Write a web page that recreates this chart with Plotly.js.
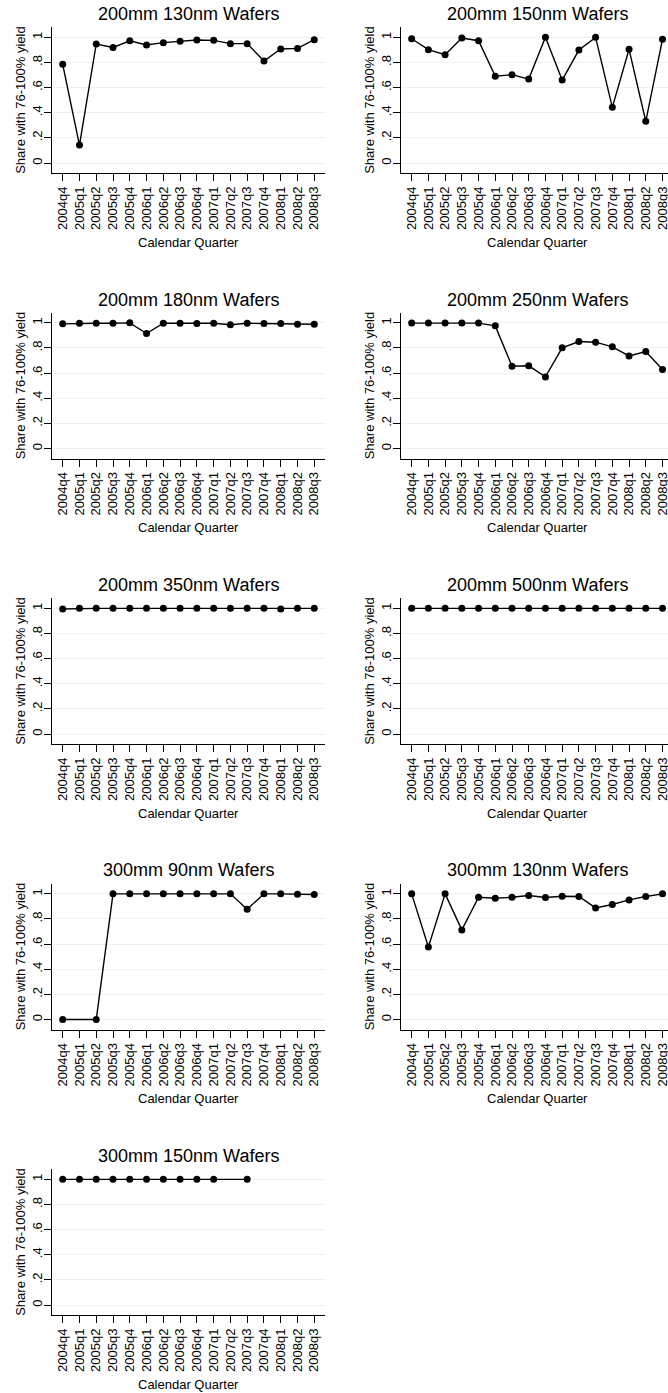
<!DOCTYPE html>
<html><head><meta charset="utf-8">
<script src="https://cdn.plot.ly/plotly-3.0.1.min.js"></script>
<style>html,body{margin:0;padding:0;overflow:hidden;background:#fff}</style>
</head><body><div id="chart"></div>
<script>
const quarters = ['2004q4','2005q1','2005q2','2005q3','2005q4','2006q1','2006q2','2006q3','2006q4','2007q1','2007q2','2007q3','2007q4','2008q1','2008q2','2008q3'];
const yTickVals = [0, 0.2, 0.4, 0.6, 0.8, 1];
const yTickText = ['0', '.2', '.4', '.6', '.8', '1'];
const panelTitles = ['200mm 130nm Wafers','200mm 150nm Wafers','200mm 180nm Wafers','200mm 250nm Wafers','200mm 350nm Wafers','200mm 500nm Wafers','300mm 90nm Wafers','300mm 130nm Wafers','300mm 150nm Wafers'];
const yAxisTitle = 'Share with 76-100% yield';
const xAxisTitle = 'Calendar Quarter';

const s200_130 = [0.785,0.143,0.947,0.920,0.973,0.939,0.958,0.968,0.979,0.976,0.950,0.950,0.812,0.907,0.912,0.981];
const s200_150 = [0.989,0.902,0.862,0.995,0.973,0.690,0.703,0.668,1.0,0.660,0.899,1.0,0.443,0.905,0.332,0.984];
const s200_180 = [0.992,0.997,0.997,0.997,1.0,0.915,0.997,0.997,0.995,0.997,0.985,0.997,0.995,0.995,0.989,0.989];
const s200_250 = [0.998,0.998,0.998,0.998,0.998,0.976,0.655,0.658,0.570,0.801,0.851,0.846,0.809,0.737,0.772,0.629];
const s200_350 = [0.995,1.0,1.0,1.0,1.0,1.0,1.0,1.0,1.0,1.0,1.0,1.0,1.0,0.995,1.0,1.0];
const s200_500 = [1.0,1.0,1.0,1.0,1.0,1.0,1.0,1.0,1.0,1.0,1.0,1.0,1.0,1.0,1.0,1.0];
const s300_90  = [0,null,0,1.0,1.0,1.0,1.0,1.0,1.0,1.0,1.0,0.878,1.0,1.0,0.997,0.995];
const s300_130 = [1.0,0.577,1.0,0.713,0.973,0.965,0.973,0.987,0.971,0.981,0.979,0.888,0.915,0.952,0.979,1.0];
const s300_150 = [1.0,1.0,1.0,1.0,1.0,1.0,1.0,1.0,1.0,1.0,null,1.0,null,null,null,null];

const series = [s200_130, s200_150, s200_180, s200_250, s200_350, s200_500, s300_90, s300_130, s300_150];

const W = 680, H = 1393;
const FONT = 'Liberation Sans, Arial, Helvetica, sans-serif';
const rowStep = 285.5;
const colLeft = [52.3, 401.3];
const colRight = [325.0, 673.2];

const traces = [];
const layout = {
  width: W, height: H,
  margin: {l: 0, r: 0, t: 0, b: 0},
  paper_bgcolor: '#ffffff', plot_bgcolor: '#ffffff',
  showlegend: false,
  font: {family: FONT, color: '#000000', size: 13},
  annotations: []
};

series.forEach((vals, i) => {
  const r = Math.floor(i / 2), c = i % 2;
  const sfx = i === 0 ? '' : String(i + 1);
  traces.push({
    type: 'scatter', mode: 'lines+markers',
    x: quarters, y: vals,
    xaxis: 'x' + sfx, yaxis: 'y' + sfx,
    connectgaps: true,
    line: {color: '#000000', width: 1.4},
    marker: {color: '#000000', size: 7},
    hoverinfo: 'x+y'
  });
  const topPx = 27.3 + rowStep * r, botPx = 173.3 + rowStep * r;
  layout['xaxis' + sfx] = {
    domain: [colLeft[c] / W, colRight[c] / W],
    anchor: 'y' + sfx,
    type: 'category',
    categoryorder: 'array', categoryarray: quarters,
    range: [-0.62, 15.64],
    tickmode: 'array', tickvals: quarters, ticktext: quarters,
    tickangle: -90,
    ticks: 'outside', ticklen: 7, tickwidth: 1, tickcolor: '#000000',
    tickfont: {family: FONT, size: 13, color: '#000000'},
    showline: true, linecolor: '#000000', linewidth: 1,
    showgrid: false, zeroline: false, fixedrange: true
  };
  layout['yaxis' + sfx] = {
    domain: [1 - botPx / H, 1 - topPx / H],
    anchor: 'x' + sfx,
    range: [-0.082, 1.08],
    tickmode: 'array', tickvals: yTickVals, ticktext: yTickText,
    tickangle: -90,
    ticks: 'outside', ticklen: 7, tickwidth: 1, tickcolor: '#000000',
    ticklabelstandoff: -3,
    tickfont: {family: FONT, size: 13, color: '#000000'},
    showline: true, linecolor: '#000000', linewidth: 1,
    showgrid: true, gridcolor: '#eaf2f3', gridwidth: 1,
    zeroline: false, fixedrange: true
  };
  const cx = (colLeft[c] + colRight[c]) / 2;
  layout.annotations.push({
    text: panelTitles[i], xref: 'paper', yref: 'paper',
    x: cx / W, y: 1 - (14 + rowStep * r) / H,
    xanchor: 'center', yanchor: 'middle', showarrow: false,
    font: {family: FONT, size: 18, color: '#000000'}
  });
  layout.annotations.push({
    text: yAxisTitle, xref: 'paper', yref: 'paper',
    x: (colLeft[c] - 31.8) / W, y: 1 - ((topPx + botPx) / 2) / H,
    xanchor: 'center', yanchor: 'middle', showarrow: false, textangle: -90,
    font: {family: FONT, size: 13, color: '#000000'}
  });
  layout.annotations.push({
    text: xAxisTitle, xref: 'paper', yref: 'paper',
    x: cx / W, y: 1 - (242.3 + rowStep * r) / H,
    xanchor: 'center', yanchor: 'middle', showarrow: false,
    font: {family: FONT, size: 13, color: '#000000'}
  });
});

Plotly.newPlot('chart', traces, layout, {displayModeBar: false, staticPlot: true});
</script></body></html>
